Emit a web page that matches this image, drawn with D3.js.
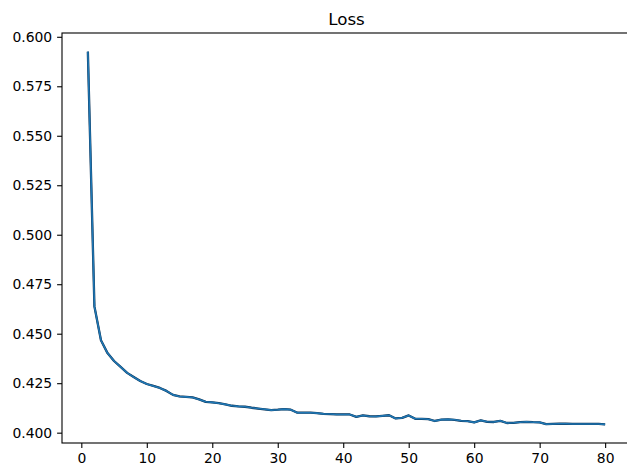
<!DOCTYPE html>
<html>
<head>
<meta charset="utf-8">
<script src="https://cdn.jsdelivr.net/npm/d3@7"></script>
<style>
  body { margin: 0; background: #fff; }
  svg { display: block; font-family: "DejaVu Sans", sans-serif; }
</style>
</head>
<body>
<svg id="chart"></svg>
<script>
// Loss per epoch
const epochs = d3.range(1, 81);
const loss = [
  0.5925, 0.4638, 0.4467, 0.4402, 0.4362, 0.4332, 0.4302, 0.4281, 0.4261, 0.4246,
  0.4236, 0.4226, 0.4211, 0.4191, 0.4183, 0.4181, 0.4178, 0.4168, 0.4156, 0.4153,
  0.4149, 0.4143, 0.4136, 0.4133, 0.4131, 0.4126, 0.4122, 0.4118, 0.4114, 0.4116,
  0.4119, 0.4116, 0.4101, 0.4101, 0.4101, 0.4099, 0.4095, 0.4094, 0.4092, 0.4092,
  0.4092, 0.4080, 0.4087, 0.4083, 0.4082, 0.4085, 0.4088, 0.4072, 0.4075, 0.4087,
  0.4070, 0.4070, 0.4068, 0.4059, 0.4066, 0.4067, 0.4065, 0.4060, 0.4058, 0.4052,
  0.4062, 0.4055, 0.4054, 0.4060, 0.4049, 0.4050, 0.4053, 0.4055, 0.4053, 0.4052,
  0.4043, 0.4044, 0.4045, 0.4045, 0.4044, 0.4044, 0.4044, 0.4044, 0.4044, 0.4042
];
const xTicks = [0, 10, 20, 30, 40, 50, 60, 70, 80];
const yTicks = [0.400, 0.425, 0.450, 0.475, 0.500, 0.525, 0.550, 0.575, 0.600];
const title = 'Loss';

const width = 627, height = 476;
const margin = { left: 62, right: 631, top: 33, bottom: 443 };

const svg = d3.select('#chart')
    .attr('width', width)
    .attr('height', height);

// matplotlib-style 5% margins
const xPad = (d3.max(epochs) - d3.min(epochs)) * 0.05;
const yPad = (d3.max(loss) - d3.min(loss)) * 0.05;

const x = d3.scaleLinear()
    .domain([d3.min(epochs) - xPad, d3.max(epochs) + xPad])
    .range([margin.left, margin.right]);

const y = d3.scaleLinear()
    .domain([d3.min(loss) - yPad, d3.max(loss) + yPad])
    .range([margin.bottom, margin.top]);

// Axes
const xAxis = svg.append('g')
    .attr('transform', `translate(0,${margin.bottom})`)
    .call(d3.axisBottom(x).tickValues(xTicks).tickSizeOuter(0).tickSize(4.9).tickPadding(4.9));

const yAxis = svg.append('g')
    .attr('transform', `translate(${margin.left},0)`)
    .call(d3.axisLeft(y).tickValues(yTicks).tickFormat(d3.format('.3f')).tickSizeOuter(0).tickSize(4.9).tickPadding(4.9));

[xAxis, yAxis].forEach(g => {
    g.select('.domain').remove();
    g.selectAll('.tick line').attr('stroke', '#000').attr('stroke-width', 1.1);
    g.selectAll('.tick text')
        .attr('fill', '#000')
        .style('font-size', '13.9px')
        .style('font-family', '"DejaVu Sans", sans-serif');
});

// Lines
const line = d3.line()
    .x((d, i) => x(epochs[i]))
    .y(d => y(d));

svg.append('path')
    .datum(loss)
    .attr('fill', 'none')
    .attr('stroke', '#0b2e4f')
    .attr('stroke-width', 2.3)
    .attr('stroke-linejoin', 'round')
    .attr('d', line);

svg.append('path')
    .datum(loss)
    .attr('fill', 'none')
    .attr('stroke', '#1f77b4')
    .attr('stroke-width', 1.6)
    .attr('stroke-linejoin', 'round')
    .attr('d', line);

// Frame
svg.append('rect')
    .attr('x', margin.left)
    .attr('y', margin.top)
    .attr('width', margin.right - margin.left)
    .attr('height', margin.bottom - margin.top)
    .attr('fill', 'none')
    .attr('stroke', '#000')
    .attr('stroke-width', 1.1);

// Title
svg.append('text')
    .attr('x', (margin.left + margin.right) / 2)
    .attr('y', margin.top - 8)
    .attr('text-anchor', 'middle')
    .style('font-size', '16.7px')
    .text(title);
</script>
</body>
</html>
